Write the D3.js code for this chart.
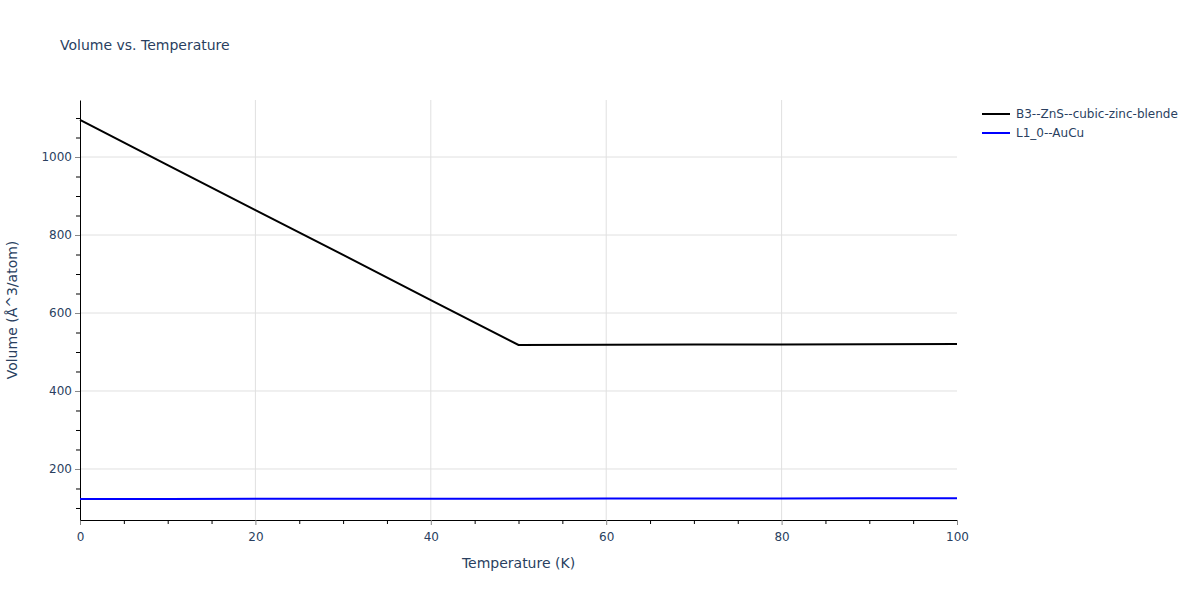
<!DOCTYPE html>
<html><head><meta charset="utf-8">
<script src="https://cdn.jsdelivr.net/npm/d3@7"></script>
<style>body{margin:0;background:#fff;} text{font-family:"DejaVu Sans",sans-serif;}</style>
</head><body><svg id="c" width="1200" height="600"></svg>
<script>
const temps = [0,10,20,30,40,50,60,70,80,90,100];
const seriesNames = ["B3--ZnS--cubic-zinc-blende","L1_0--AuCu"];
const seriesColors = ["#000000","#0000ff"];
const zns = [1095,979,864,749,633,518,518.5,519,519.5,520,520.5];
const aucu = [123,123.2,123.4,123.6,123.8,124,124.2,124.4,124.6,124.8,125];
const xTicks = [0,20,40,60,80,100];
const yTicks = [200,400,600,800,1000];

const svg = d3.select("#c");
const L=80,R=957,T=100,B=520;
const x = d3.scaleLinear().domain([0,100]).range([L,R]);
const y = d3.scaleLinear().domain([69.2,1146.2]).range([B,T]);
const fc="#2a3f5f";
const ff="DejaVu Sans";

// grid
svg.append("g").selectAll("line").data(xTicks.filter(d=>d>0&&d<100)).join("line")
 .attr("x1",d=>x(d)).attr("x2",d=>x(d)).attr("y1",T).attr("y2",B).attr("stroke","#e0e0e0");
svg.append("g").selectAll("line").data(yTicks).join("line")
 .attr("x1",L).attr("x2",R).attr("y1",d=>y(d)).attr("y2",d=>y(d)).attr("stroke","#e0e0e0");

// minor ticks
const xMinor = d3.range(5,100,5).filter(d=>d%20!==0);
svg.append("g").attr("transform",`translate(0,${B})`)
 .call(d3.axisBottom(x).tickValues(xMinor).tickSize(4).tickFormat(""))
 .call(g=>g.select(".domain").remove()).selectAll("line").attr("stroke","#000");
const yMinor = d3.range(100,1150,50).filter(d=>d%200!==0);
svg.append("g").attr("transform",`translate(${L},0)`)
 .call(d3.axisLeft(y).tickValues(yMinor).tickSize(4).tickFormat(""))
 .call(g=>g.select(".domain").remove()).selectAll("line").attr("stroke","#000");

// major axes
const gx = svg.append("g").attr("transform",`translate(0,${B})`)
 .call(d3.axisBottom(x).tickValues(xTicks).tickFormat(d3.format("d")).tickSize(5).tickSizeOuter(0));
gx.select(".domain").attr("stroke","#000");
gx.selectAll(".tick line").attr("stroke","#888");
gx.selectAll("text").attr("fill",fc).attr("font-size",12).attr("font-family",ff).attr("dy","1.1em");
const gy = svg.append("g").attr("transform",`translate(${L},0)`)
 .call(d3.axisLeft(y).tickValues(yTicks).tickFormat(d3.format("d")).tickSize(5).tickSizeOuter(0));
gy.select(".domain").attr("stroke","#000");
gy.selectAll(".tick line").attr("stroke","#888");
gy.selectAll("text").attr("fill",fc).attr("font-size",12).attr("font-family",ff).attr("x",-8);

// lines
const line = d3.line().x((d,i)=>x(temps[i])).y(d=>y(d));
[zns,aucu].forEach((s,i)=>{
  svg.append("path").datum(s).attr("d",line).attr("fill","none")
   .attr("stroke",seriesColors[i]).attr("stroke-width",2);
});

// titles
svg.append("text").attr("x",60).attr("y",50).attr("fill",fc).attr("font-size",14).text("Volume vs. Temperature");
svg.append("text").attr("x",(L+R)/2).attr("y",568).attr("text-anchor","middle").attr("fill",fc).attr("font-size",14).text("Temperature (K)");
svg.append("text").attr("transform",`translate(17,${(T+B)/2}) rotate(-90)`).attr("text-anchor","middle").attr("fill",fc).attr("font-size",14).text("Volume (Å^3/atom)");

// legend
seriesNames.forEach((n,i)=>{
  const yy = 114 + i*19;
  svg.append("line").attr("x1",982).attr("x2",1010).attr("y1",yy).attr("y2",yy).attr("stroke",seriesColors[i]).attr("stroke-width",2);
  svg.append("text").attr("x",1016).attr("y",yy+4).attr("fill",fc).attr("font-size",12).text(n);
});
</script></body></html>
